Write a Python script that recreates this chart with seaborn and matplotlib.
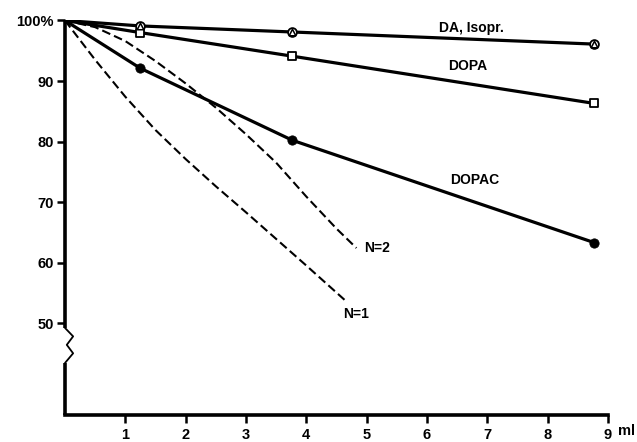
import numpy as np
import pandas as pd
import matplotlib
matplotlib.use("Agg")
import matplotlib.pyplot as plt
import seaborn as sns

# volume (ml) and remaining fraction (%)
ml_pts = [0, 1.25, 3.77, 8.77]
da_isopr = [100, 99.1, 98.1, 96.1]
dopa = [100, 98.0, 94.1, 86.3]
dopac = [100, 92.1, 80.2, 63.3]

# theoretical curves (dashed)
n2_ml = [0, 0.5, 1.0, 1.5, 2.0, 2.5, 3.0, 3.5, 4.0, 4.5, 4.83]
n2_val = [100, 98.9, 96.6, 93.3, 89.6, 85.6, 81.2, 76.5, 70.9, 65.6, 62.4]
n1_ml = [0, 0.5, 1.0, 1.5, 2.0, 2.5, 3.0, 3.5, 4.0, 4.66]
n1_val = [100, 93.5, 87.4, 81.9, 77.1, 72.6, 68.3, 63.9, 59.5, 53.6]

x_ticks = [1, 2, 3, 4, 5, 6, 7, 8, 9]
y_ticks = [50, 60, 70, 80, 90, 100]
y_ticklabels = ["50", "60", "70", "80", "90", "100%"]

sns.set_style("white")
plt.rcParams["font.family"] = ["Liberation Sans", "DejaVu Sans"]
plt.rcParams["font.weight"] = "bold"

fig = plt.figure(figsize=(6.37, 4.42), dpi=100)
ax = fig.add_axes([0.102, 0.061, 0.8525, 0.894])

solid = dict(color="black", linewidth=2.3, estimator=None, sort=False)
sns.lineplot(x=ml_pts, y=da_isopr, ax=ax, **solid)
sns.lineplot(x=ml_pts, y=dopa, ax=ax, **solid)
sns.lineplot(x=ml_pts, y=dopac, ax=ax, **solid)

dashed = dict(color="black", linewidth=1.5, estimator=None, sort=False)
sns.lineplot(x=n2_ml, y=n2_val, ax=ax, **dashed)
sns.lineplot(x=n1_ml, y=n1_val, ax=ax, **dashed)
for ln in ax.lines[-2:]:
    ln.set_dashes([4.2, 2.0])

# markers (skip the common origin)
sns.scatterplot(x=ml_pts[1:], y=da_isopr[1:], ax=ax, marker="o", s=40,
                facecolor="white", edgecolor="black", linewidth=1.3, zorder=5)
sns.scatterplot(x=ml_pts[1:], y=da_isopr[1:], ax=ax, marker="^", s=22,
                facecolor="white", edgecolor="black", linewidth=1.1, zorder=6)
sns.scatterplot(x=ml_pts[1:], y=dopa[1:], ax=ax, marker="s", s=38,
                facecolor="white", edgecolor="black", linewidth=1.3, zorder=5)
sns.scatterplot(x=ml_pts[1:], y=dopac[1:], ax=ax, marker="o", s=45,
                color="black", edgecolor="black", zorder=5)

ax.set_xlim(0, 9)
ax.set_ylim(34.8, 100.1)
ax.set_xticks(x_ticks)
ax.set_xticklabels([str(t) for t in x_ticks])
ax.set_yticks(y_ticks)
ax.set_yticklabels(y_ticklabels)
ax.tick_params(axis="both", direction="out", length=6, width=1.8,
               labelsize=10.5, pad=2, colors="black", bottom=True, left=True)
ax.tick_params(axis="x", pad=3)
for lab in ax.get_xticklabels() + ax.get_yticklabels():
    lab.set_fontweight("bold")

for side in ["top", "right", "left"]:
    ax.spines[side].set_visible(False)
ax.spines["bottom"].set_linewidth(2.6)
ax.spines["bottom"].set_color("black")

# left axis with break
ax.plot([0, 0], [100.1, 49.2], color="black", lw=2.6, clip_on=False,
        solid_capstyle="butt")
ax.plot([0, 0.135, 0.03, 0.135, 0], [49.2, 47.8, 46.4, 45.0, 43.4],
        color="black", lw=1.3, clip_on=False)
ax.plot([0, 0], [43.4, 34.8], color="black", lw=2.6, clip_on=False,
        solid_capstyle="butt")

lbl = dict(fontsize=10, fontweight="bold", color="black")
ax.text(6.74, 98.8, "DA, Isopr.", ha="center", va="center", **lbl)
ax.text(6.68, 92.5, "DOPA", ha="center", va="center", **lbl)
ax.text(6.79, 73.6, "DOPAC", ha="center", va="center", **lbl)
ax.text(4.95, 62.4, "N=2", ha="left", va="center", **lbl)
ax.text(4.61, 51.5, "N=1", ha="left", va="center", **lbl)
ax.text(9.17, 33.3, "ml", ha="left", va="top", fontsize=10.5,
        fontweight="bold", color="black")

fig.savefig("out.png", dpi=100)
